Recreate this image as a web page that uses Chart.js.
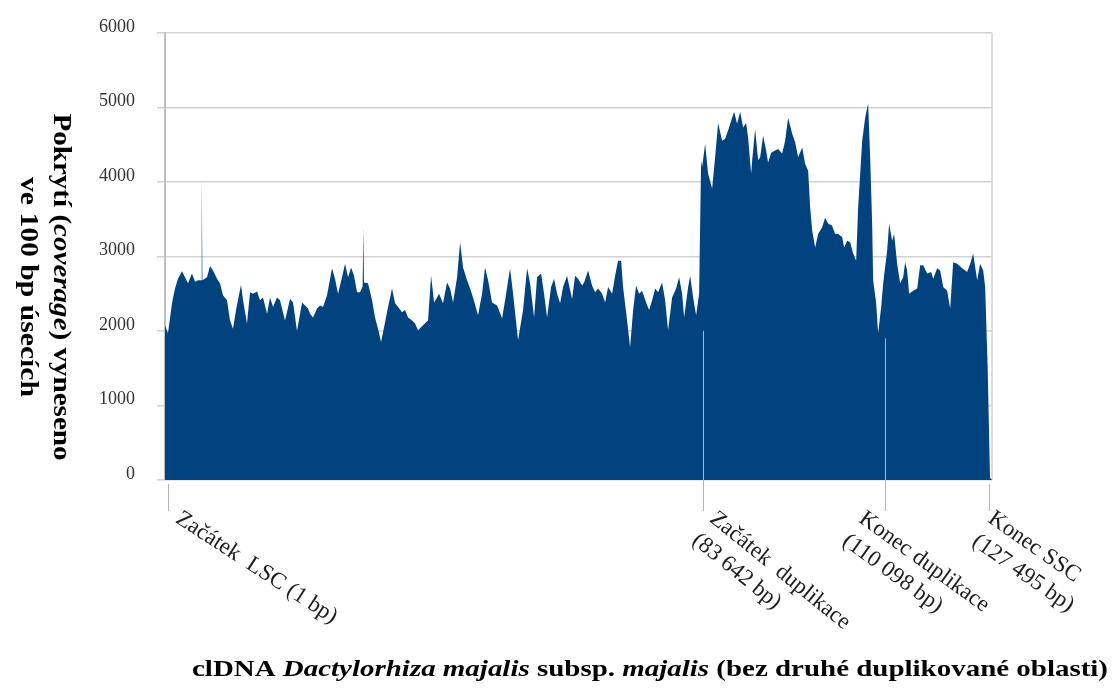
<!DOCTYPE html>
<html>
<head>
<meta charset="utf-8">
<script src="https://cdn.jsdelivr.net/npm/chart.js@4/dist/chart.umd.min.js"></script>
<style>
  html, body { margin:0; padding:0; background:#fff; }
  #wrap { width:1115px; height:693px; }
</style>
</head>
<body>
<div id="wrap"><canvas id="cov" width="1115" height="693"></canvas></div>
<script>
// position along the cpDNA (kb) and coverage per 100 bp window
const posKb = [
  0, 0.46, 1.08, 1.54, 2.00, 2.62, 3.08, 3.55, 4.16, 4.63, 5.09, 5.55, 5.66, 5.77, 6.48, 6.94, 7.40, 8.02, 8.48, 8.94,
  9.56, 10.02, 10.49, 10.95, 11.72, 12.03, 12.64, 13.11, 13.57, 14.19, 14.65, 15.11, 15.73, 16.19, 16.65, 17.27, 17.73, 18.50, 19.28, 19.74,
  20.35, 21.13, 22.05, 22.36, 22.82, 23.44, 23.90, 24.36, 24.98, 25.75, 26.21, 26.68, 27.29, 27.76, 28.22, 28.68, 29.14, 29.61, 30.07, 30.47,
  30.58, 30.68, 31.30, 31.92, 32.38, 32.84, 33.31, 33.77, 34.39, 35.00, 35.47, 35.93, 36.55, 37.01, 37.47, 38.09, 38.55, 39.01, 39.78, 40.55,
  41.02, 41.48, 41.94, 42.25, 42.87, 43.48, 43.95, 44.41, 45.03, 45.49, 45.95, 46.57, 47.03, 47.49, 48.26, 48.88, 49.34, 49.81, 50.42, 51.19,
  51.97, 52.43, 53.20, 53.66, 54.43, 55.20, 55.82, 56.28, 56.90, 57.36, 57.98, 58.44, 58.90, 59.52, 59.98, 60.45, 60.91, 61.37, 61.99, 62.30,
  62.76, 63.22, 63.68, 64.30, 64.61, 65.23, 65.84, 66.31, 66.77, 67.39, 67.85, 68.31, 68.93, 69.39, 69.85, 70.32, 70.62, 71.24, 71.70, 72.17,
  72.63, 73.09, 73.55, 74.17, 74.63, 75.10, 75.56, 76.02, 76.64, 77.10, 77.56, 78.18, 78.80, 79.26, 79.72, 80.03, 80.65, 80.96, 81.42, 81.88,
  82.34, 82.65, 82.81, 83.27, 83.73, 84.35, 84.81, 85.27, 85.89, 86.35, 86.81, 87.43, 87.74, 88.20, 88.67, 89.13, 89.59, 89.90, 90.36, 90.52,
  90.98, 91.44, 91.75, 92.21, 92.67, 92.98, 93.45, 94.06, 94.52, 95.14, 95.60, 96.07, 96.68, 97.15, 97.61, 98.23, 98.69, 99.15, 99.46, 99.77,
  100.23, 100.69, 101.31, 101.77, 102.23, 102.85, 103.31, 103.78, 104.39, 104.70, 105.16, 105.63, 106.09, 106.55, 106.86, 107.48, 107.94, 108.40, 108.71, 109.02,
  109.17, 109.64, 109.94, 110.41, 110.72, 111.33, 111.64, 112.10, 112.41, 112.87, 113.33, 113.80, 114.11, 114.41, 114.72, 115.34, 115.96, 116.42, 116.88, 117.50,
  118.12, 118.43, 119.04, 119.51, 119.97, 120.58, 121.05, 121.51, 122.13, 122.90, 123.67, 124.13, 124.59, 125.21, 125.67, 126.14, 126.44, 126.83, 127.19, 127.495
];
const coverage = [
  2075, 1970, 2370, 2570, 2700, 2800, 2720, 2640, 2770, 2660, 2680, 2680, 4085, 2680, 2720, 2870, 2810, 2700, 2640, 2480,
  2410, 2140, 2030, 2280, 2620, 2410, 2100, 2520, 2500, 2530, 2410, 2450, 2230, 2450, 2320, 2450, 2410, 2140, 2430, 2380,
  2000, 2380, 2300, 2230, 2180, 2300, 2340, 2320, 2480, 2840, 2700, 2500, 2720, 2900, 2720, 2850, 2740, 2520, 2520, 2600,
  3390, 2650, 2640, 2410, 2180, 2030, 1850, 2050, 2320, 2570, 2370, 2320, 2250, 2280, 2180, 2140, 2100, 2010, 2075, 2140,
  2740, 2380, 2450, 2500, 2370, 2650, 2570, 2380, 2720, 3190, 2850, 2680, 2570, 2450, 2210, 2500, 2850, 2680, 2380, 2340,
  2170, 2410, 2840, 2500, 1875, 2280, 2840, 2640, 2180, 2720, 2770, 2500, 2180, 2590, 2700, 2500, 2370, 2590, 2740, 2610,
  2430, 2740, 2700, 2610, 2650, 2810, 2610, 2520, 2570, 2500, 2380, 2590, 2500, 2740, 2940, 2940, 2590, 2140, 1780, 2280,
  2610, 2500, 2540, 2380, 2280, 2410, 2570, 2520, 2650, 2410, 2010, 2450, 2570, 2720, 2500, 2180, 2590, 2740, 2450, 2210,
  2500, 4290, 4200, 4510, 4110, 3910, 4330, 4790, 4550, 4580, 4690, 4860, 4940, 4780, 4940, 4730, 4790, 4590, 4110, 4290,
  4710, 4290, 4330, 4620, 4420, 4260, 4390, 4420, 4440, 4380, 4550, 4860, 4650, 4530, 4330, 4460, 4240, 4150, 3660, 3350,
  3120, 3300, 3390, 3520, 3440, 3410, 3300, 3300, 3260, 3120, 3210, 3190, 3040, 2940, 3660, 4550, 4860, 5050, 4330, 3440,
  2680, 2370, 1970, 2320, 2640, 3080, 3440, 3210, 3300, 2900, 2640, 2720, 2920, 2810, 2500, 2540, 2570, 2880, 2880, 2770,
  2790, 2700, 2840, 2810, 2590, 2540, 2300, 2920, 2900, 2840, 2790, 2900, 3040, 2680, 2900, 2810, 2590, 1500, 30, 0
];
// region boundaries as they sit on the axis in the picture (bp) and their labels
const markerBp = [460, 82900, 111000, 127050];
const markerLabels = [
  ["Začátek  LSC (1 bp)"],
  ["Začátek  duplikace", "(83 642 bp)"],
  ["Konec duplikace", "(110 098 bp)"],
  ["Konec SSC", "(127 495 bp)"]
];
const yMin = 0, yMax = 6000, yStep = 1000;
const genomeEnd = 127495;

const SERIF = '"Liberation Serif", "Times New Roman", serif';

// draws mixed bold / italic runs centred on (cx, cy), stretched sideways to a given width
function richText(ctx, segs, cx, cy, size, width){
  let total = 0;
  segs.forEach(s => { ctx.font = `${s[1]} ${size}px ${SERIF}`; total += ctx.measureText(s[0]).width; });
  const sx = width ? width / total : 1;
  ctx.save();
  ctx.translate(cx, cy);
  ctx.scale(sx, 1);
  let x = -total / 2;
  ctx.textAlign = "left";
  ctx.textBaseline = "middle";
  segs.forEach(s => {
    ctx.font = `${s[1]} ${size}px ${SERIF}`;
    ctx.fillText(s[0], x, 0);
    x += ctx.measureText(s[0]).width;
  });
  ctx.restore();
}

const overlay = {
  id: "overlay",
  beforeDatasetsDraw(chart){
    const { ctx, chartArea: a } = chart;
    ctx.save();
    ctx.strokeStyle = "#d2d2d2";
    ctx.lineWidth = 1.5;
    ctx.beginPath(); ctx.moveTo(a.right, a.top); ctx.lineTo(a.right, a.bottom); ctx.stroke();
    ctx.restore();
  },
  afterDatasetsDraw(chart, args, opts){
    const { ctx, chartArea: a, scales: { x, y } } = chart;
    ctx.save();
    // boundary lines
    ctx.lineWidth = 1;
    markerBp.forEach((bp, i) => {
      const px = Math.round(x.getPixelForValue(bp)) + 0.5;
      const from = opts.lineFrom[i] ? y.getPixelForValue(opts.lineFrom[i]) : a.bottom + 4;
      ctx.strokeStyle = "#b4b4b4";
      ctx.beginPath(); ctx.moveTo(px, from); ctx.lineTo(px, a.bottom + 31); ctx.stroke();
    });
    // rotated boundary labels
    ctx.fillStyle = "#1e1e1e";
    ctx.font = `23px ${SERIF}`;
    ctx.textAlign = "left";
    ctx.textBaseline = "top";
    markerBp.forEach((bp, i) => {
      const px = x.getPixelForValue(bp);
      ctx.save();
      ctx.translate(px + opts.labelDx[i], a.bottom + 27);
      ctx.rotate(opts.labelAngle[i] * Math.PI / 180);
      markerLabels[i].forEach((t, j) => ctx.fillText(t, 0, j * 28));
      ctx.restore();
    });
    // y title, rotated clockwise
    ctx.fillStyle = "#000";
    ctx.save();
    ctx.translate(60, 287);
    ctx.rotate(Math.PI / 2);
    richText(ctx, [["Pokrytí (", "bold"], ["coverage", "italic bold"], [") vyneseno", "bold"]], 0, 0, 25, 347);
    richText(ctx, [["ve 100 bp úsecích", "bold"]], 0, 33, 25, 220);
    ctx.restore();
    // x title
    richText(ctx, [
      ["clDNA ", "bold"], ["Dactylorhiza majalis", "italic bold"], [" subsp. ", "bold"],
      ["majalis", "italic bold"], [" (bez druhé duplikované oblasti)", "bold"]
    ], 650, 670, 24, 916);
    ctx.restore();
  }
};

const points = posKb.map((kb, i) => ({ x: Math.min(kb * 1000, genomeEnd), y: coverage[i] }));

new Chart(document.getElementById("cov"), {
  type: "line",
  data: {
    datasets: [{
      data: points,
      fill: "origin",
      backgroundColor: "#02437f",
      borderColor: "rgba(0,0,0,0)",
      borderWidth: 0,
      pointRadius: 0,
      tension: 0
    }]
  },
  options: {
    responsive: false,
    animation: false,
    devicePixelRatio: 1,
    layout: { padding: { left: 0, top: 32, right: 123, bottom: 0 } },
    plugins: {
      legend: { display: false },
      tooltip: { enabled: false },
      overlay: { lineFrom: [0, 2000, 1900, 0], labelDx: [16, 17, -17, 8], labelAngle: [33, 39, 36, 35] }
    },
    scales: {
      x: {
        type: "linear", min: 0, max: genomeEnd,
        ticks: { display: false },
        grid: { display: false },
        border: { display: false },
        afterFit: s => { s.height = 213; }
      },
      y: {
        min: yMin, max: yMax,
        ticks: {
          stepSize: yStep, padding: 22, labelOffset: -6, color: "#333",
          font: { family: SERIF, size: 18 },
          callback: v => String(v)
        },
        grid: { color: "#d2d2d2", lineWidth: 1.5, tickLength: 8 },
        border: { color: "#bdbdbd", width: 2 },
        afterFit: s => { s.width = 165; }
      }
    }
  },
  plugins: [overlay]
});
</script>
</body>
</html>
